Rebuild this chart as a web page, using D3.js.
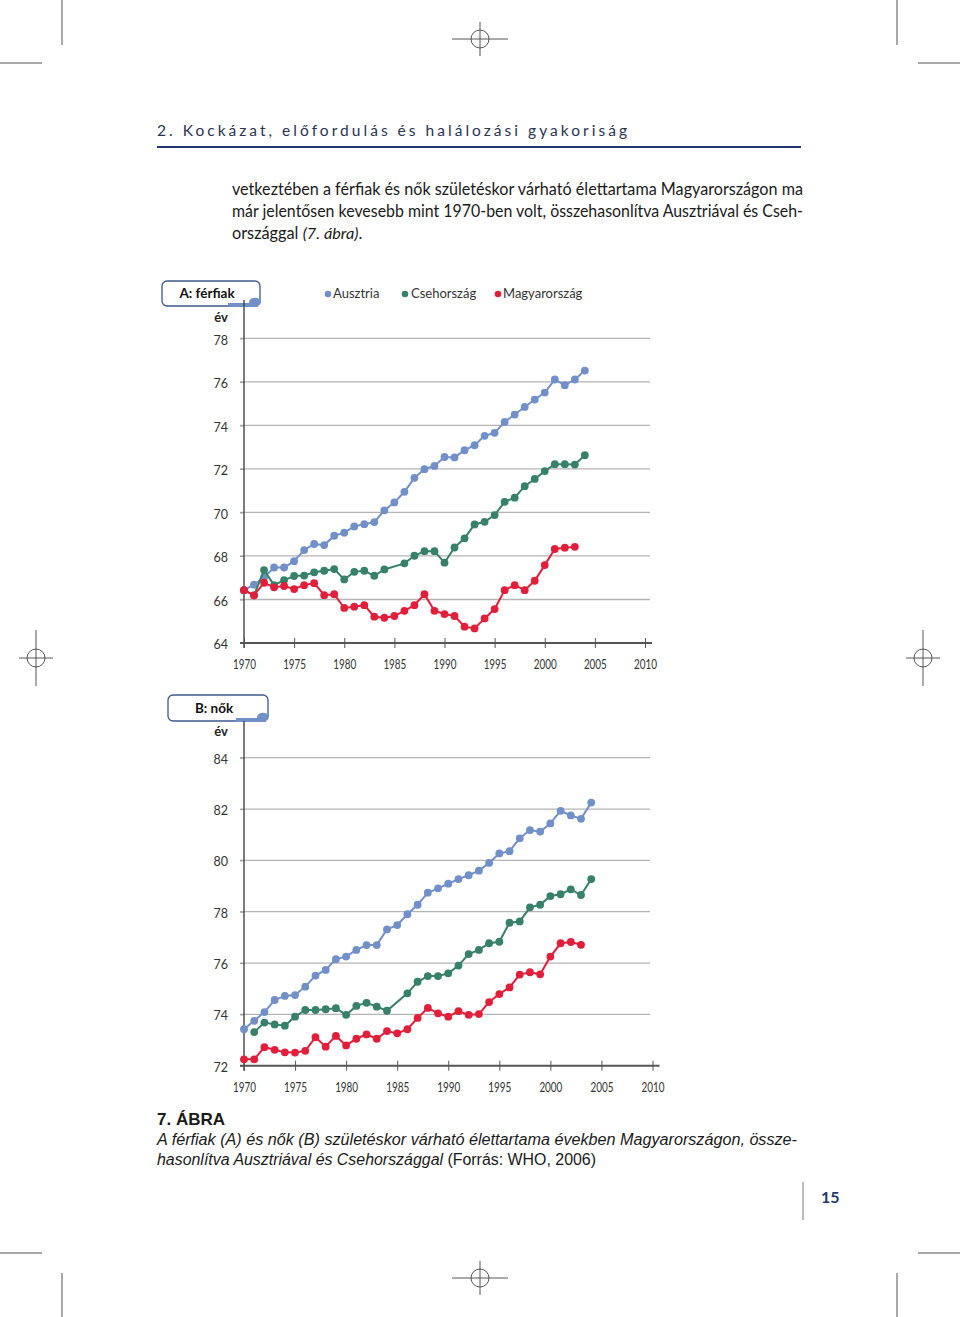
<!DOCTYPE html>
<html>
<head>
<meta charset="utf-8">
<script src="https://cdn.jsdelivr.net/npm/d3@7"></script>
<style>
  html, body { margin: 0; padding: 0; background: #fff; }
  svg { display: block; }
</style>
</head>
<body>
<svg id="page" width="960" height="1317"></svg>
<script>
// ---------------- DATA ----------------
const years = [1970,1971,1972,1973,1974,1975,1976,1977,1978,1979,1980,1981,1982,1983,1984,1985,1986,1987,1988,1989,1990,1991,1992,1993,1994,1995,1996,1997,1998,1999,2000,2001,2002,2003,2004];
const seriesNames = ["Ausztria", "Csehország", "Magyarország"];

const maleAustria  = [66.43,66.68,67.02,67.47,67.47,67.76,68.27,68.55,68.5,68.93,69.07,69.36,69.46,69.56,70.1,70.46,70.95,71.59,71.99,72.14,72.55,72.53,72.86,73.09,73.52,73.66,74.16,74.5,74.85,75.19,75.51,76.11,75.85,76.11,76.52];
const maleCzech    = [66.43,66.19,67.35,66.66,66.89,67.08,67.1,67.25,67.32,67.4,66.92,67.27,67.32,67.09,67.38,null,67.66,68.01,68.22,68.22,67.69,68.39,68.81,69.45,69.57,69.88,70.49,70.68,71.21,71.54,71.9,72.22,72.22,72.2,72.63];
const maleHungary  = [66.43,66.19,66.77,66.56,66.62,66.48,66.66,66.75,66.2,66.24,65.61,65.67,65.74,65.21,65.16,65.24,65.48,65.74,66.24,65.48,65.33,65.24,64.75,64.67,65.13,65.56,66.43,66.66,66.43,66.86,67.58,68.32,68.38,68.42,null];

const femaleAustria = [73.42,73.75,74.09,74.56,74.72,74.75,75.08,75.51,75.73,76.15,76.25,76.51,76.7,76.7,77.31,77.48,77.9,78.27,78.74,78.91,79.09,79.27,79.42,79.6,79.9,80.27,80.36,80.86,81.18,81.12,81.44,81.93,81.75,81.62,82.25];
const femaleCzech   = [null,73.31,73.68,73.61,73.56,73.91,74.17,74.17,74.2,74.24,73.98,74.33,74.45,74.3,74.14,null,74.82,75.27,75.49,75.49,75.6,75.9,76.35,76.51,76.77,76.83,77.57,77.62,78.17,78.27,78.61,78.68,78.87,78.65,79.27];
const femaleHungary = [72.25,72.25,72.72,72.62,72.52,72.51,72.58,73.11,72.74,73.16,72.79,73.05,73.22,73.05,73.35,73.26,73.42,73.86,74.25,74.04,73.91,74.13,73.98,74.01,74.48,74.79,75.05,75.55,75.64,75.56,76.25,76.77,76.82,76.71,null];

const xTicks = [1970,1975,1980,1985,1990,1995,2000,2005,2010];
const yTicksMale = [64,66,68,70,72,74,76,78];
const yTicksFemale = [72,74,76,78,80,82,84];

// ---------------- STYLE ----------------
const colors = ["#7190c8", "#37806a", "#e11f3b"];
const navy = "#23386b";
const svg = d3.select("#page");
svg.append("rect").attr("width",960).attr("height",1317).attr("fill","#fff");

// crop / registration marks
const mark = svg.append("g").attr("stroke","#555").attr("stroke-width",1).attr("fill","none");
[[62,0,62,45],[0,63,42,63],[897,0,897,45],[918,63,960,63],
 [62,1273,62,1317],[0,1253,42,1253],[897,1273,897,1317],[918,1253,960,1253]]
 .forEach(l => mark.append("line").attr("x1",l[0]).attr("y1",l[1]).attr("x2",l[2]).attr("y2",l[3]));
function reg(cx, cy, horiz) {
  if (horiz) {
    mark.append("line").attr("x1",cx-28).attr("x2",cx+28).attr("y1",cy).attr("y2",cy);
    mark.append("line").attr("x1",cx).attr("x2",cx).attr("y1",cy-17).attr("y2",cy+17);
  } else {
    mark.append("line").attr("x1",cx).attr("x2",cx).attr("y1",cy-28).attr("y2",cy+28);
    mark.append("line").attr("x1",cx-17).attr("x2",cx+17).attr("y1",cy).attr("y2",cy);
  }
  mark.append("circle").attr("cx",cx).attr("cy",cy).attr("r",9);
}
reg(480,39,true); reg(480,1278,true); reg(36,658,false); reg(923,658,false);

// header
svg.append("text").attr("x",157).attr("y",136)
  .attr("font-family","Lato, 'Open Sans', sans-serif").attr("font-size",15.5).attr("fill","#2a3352")
  .attr("textLength",470).attr("lengthAdjust","spacing")
  .text("2. Kockázat, előfordulás és halálozási gyakoriság");
svg.append("line").attr("x1",157).attr("x2",801).attr("y1",147).attr("y2",147)
  .attr("stroke",navy).attr("stroke-width",2.2);

// paragraph
const para = svg.append("g").attr("font-family","Lato, 'Open Sans', sans-serif").attr("font-size",16.3).attr("fill","#1a1a1a");
para.append("text").attr("x",232).attr("y",195).attr("textLength",571).attr("lengthAdjust","spacingAndGlyphs")
  .text("vetkeztében a férfiak és nők születéskor várható élettartama Magyarországon ma");
para.append("text").attr("x",232).attr("y",217).attr("textLength",571).attr("lengthAdjust","spacingAndGlyphs")
  .text("már jelentősen kevesebb mint 1970-ben volt, összehasonlítva Ausztriával és Cseh-");
const p3 = para.append("text").attr("x",232).attr("y",239);
p3.append("tspan").text("országgal ");
p3.append("tspan").attr("font-style","italic").text("(7. ábra)");
p3.append("tspan").text(".");

// legend
const legend = svg.append("g").attr("font-family","Lato, 'Open Sans', sans-serif").attr("font-size",13).attr("fill","#333");
const legendPos = [[328,333],[405,411],[498,503]];
seriesNames.forEach((n,i) => {
  legend.append("circle").attr("cx",legendPos[i][0]).attr("cy",294).attr("r",3.3).attr("fill",colors[i]);
  legend.append("text").attr("x",legendPos[i][1]).attr("y",297.5).text(n);
});

// ---------------- CHART FUNCTION ----------------
function drawChart(cfg) {
  const g = svg.append("g");
  const x = d3.scaleLinear().domain([1970,2010]).range([244, cfg.xRight]);
  const y = d3.scaleLinear().domain([cfg.yMin, cfg.yMax]).range([cfg.yBottom, cfg.yTop]);

  // label box
  g.append("rect").attr("x",cfg.box[0]).attr("y",cfg.box[1]).attr("width",cfg.box[2]).attr("height",cfg.box[3])
    .attr("rx",5).attr("fill","#fff").attr("stroke","#3d5a8e").attr("stroke-width",1.3);
  g.append("rect").attr("x",cfg.box[0]+cfg.box[2]-32).attr("y",cfg.box[1]+cfg.box[3]-3)
    .attr("width",30).attr("height",4).attr("fill","#7190c8");
  g.append("ellipse").attr("cx",cfg.box[0]+cfg.box[2]-5).attr("cy",cfg.box[1]+cfg.box[3]-4)
    .attr("rx",6).attr("ry",4.2).attr("fill","#7190c8");
  g.append("text").attr("x",cfg.box[0]+cfg.box[2]/2 - 4).attr("y",cfg.box[1]+cfg.box[3]/2+4.5)
    .attr("text-anchor","middle").attr("font-family","Lato, 'Open Sans', sans-serif")
    .attr("font-weight","bold").attr("font-size",13.5).attr("fill","#111").text(cfg.title);
  g.append("text").attr("x",221).attr("y",cfg.evY).attr("text-anchor","middle")
    .attr("font-family","Lato, 'Open Sans', sans-serif").attr("font-weight","bold").attr("font-size",13).attr("fill","#222").text("év");

  // gridlines
  g.selectAll(".grid").data(cfg.yTicks.slice(1)).enter().append("line")
    .attr("x1",240).attr("x2",650).attr("y1",d=>y(d)).attr("y2",d=>y(d))
    .attr("stroke","#b4b4b4").attr("stroke-width",1.3);

  // y axis
  const yAxis = d3.axisLeft(y).tickValues(cfg.yTicks).tickSize(4).tickPadding(12).tickFormat(d3.format("d"));
  const ya = g.append("g").attr("transform","translate(244,0)").call(yAxis);
  ya.select(".domain").remove();
  ya.selectAll(".tick line").attr("stroke","#999");
  ya.selectAll(".tick text").attr("font-family","Lato, 'Open Sans', sans-serif").attr("font-size",12.5)
    .attr("fill","#333").attr("dy","0.45em");
  g.append("line").attr("x1",244).attr("x2",244).attr("y1",cfg.axisTop).attr("y2",y(cfg.yMin)+5)
    .attr("stroke","#444").attr("stroke-width",1.4);

  // x axis
  const xAxis = d3.axisBottom(x).tickValues(xTicks).tickSize(5).tickPadding(12).tickFormat(d3.format("d"));
  const xa = g.append("g").attr("transform",`translate(0,${y(cfg.yMin)})`).call(xAxis);
  xa.select(".domain").remove();
  xa.selectAll(".tick line").attr("y1",-5).attr("y2",5).attr("stroke","#555").attr("stroke-width",1);
  xa.selectAll(".tick text").attr("font-family","Lato, 'Open Sans', sans-serif").attr("font-size",13)
    .attr("fill","#333").attr("textLength",23).attr("lengthAdjust","spacingAndGlyphs");
  g.append("line").attr("x1",240).attr("x2",cfg.xRight+7).attr("y1",y(cfg.yMin)).attr("y2",y(cfg.yMin))
    .attr("stroke","#555").attr("stroke-width",2);

  // series
  cfg.series.forEach((vals,i) => {
    const pts = years.map((yr,k) => ({yr, v: vals[k]})).filter(d => d.v !== null);
    const line = d3.line().x(d=>x(d.yr)).y(d=>y(d.v));
    g.append("path").datum(pts).attr("d",line).attr("fill","none")
      .attr("stroke",colors[i]).attr("stroke-width",2);
    g.selectAll(null).data(pts).enter().append("circle")
      .attr("cx",d=>x(d.yr)).attr("cy",d=>y(d.v)).attr("r",3.9).attr("fill",colors[i]);
  });
}

drawChart({
  title: "A: férfiak", box:[162,281,98,25], evY:322, axisTop:300,
  yMin:64, yMax:78, yBottom:643, yTop:338.4, xRight:645,
  yTicks: yTicksMale, series:[maleAustria, maleCzech, maleHungary]
});
drawChart({
  title: "B: nők", box:[168,695,100,26], evY:736, axisTop:721,
  yMin:72, yMax:84, yBottom:1065.7, yTop:757.7, xRight:652.5,
  yTicks: yTicksFemale, series:[femaleAustria, femaleCzech, femaleHungary]
});

// caption
const cap = svg.append("g").attr("font-family","'Liberation Sans', Arial, sans-serif").attr("fill","#1a1a1a");
cap.append("text").attr("x",157).attr("y",1125).attr("font-weight","bold").attr("font-size",17).text("7. ÁBRA");
cap.append("text").attr("x",157).attr("y",1145).attr("font-size",16).attr("font-style","italic")
  .attr("textLength",640).attr("lengthAdjust","spacingAndGlyphs")
  .text("A férfiak (A) és nők (B) születéskor várható élettartama években Magyarországon, össze-");
const c2 = cap.append("text").attr("x",157).attr("y",1165).attr("font-size",16)
  .attr("textLength",439).attr("lengthAdjust","spacingAndGlyphs");
c2.append("tspan").attr("font-style","italic").text("hasonlítva Ausztriával és Csehországgal ");
c2.append("tspan").text("(Forrás: WHO, 2006)");

// page number
svg.append("line").attr("x1",803).attr("x2",803).attr("y1",1182).attr("y2",1220).attr("stroke","#777").attr("stroke-width",1);
svg.append("text").attr("x",821).attr("y",1203).attr("font-family","Lato, 'Open Sans', sans-serif")
  .attr("font-weight","bold").attr("font-size",16).attr("fill",navy).text("15");
</script>
</body>
</html>
